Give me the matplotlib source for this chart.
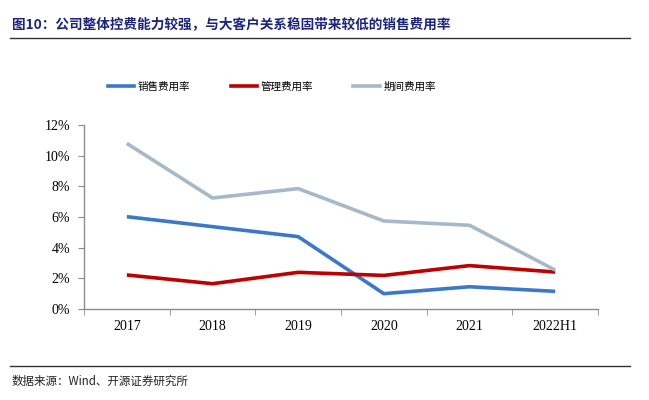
import matplotlib
matplotlib.use("Agg")
import matplotlib.pyplot as plt
from matplotlib.lines import Line2D

plt.rcParams['font.family'] = ['Liberation Serif', 'Noto Sans CJK SC', 'DejaVu Sans']

categories = ["2017", "2018", "2019", "2020", "2021", "2022H1"]
sales_rate = [6.02, 5.37, 4.72, 1.00, 1.45, 1.15]
admin_rate = [2.22, 1.65, 2.39, 2.19, 2.83, 2.41]
period_rate = [10.80, 7.24, 7.85, 5.74, 5.46, 2.54]
series_names = ["销售费用率", "管理费用率", "期间费用率"]
yticks = [0, 2, 4, 6, 8, 10, 12]

colors = ["#3A78C9", "#C00000", "#A6B9C8"]

fig = plt.figure(figsize=(6.49, 4.00), dpi=100)
ax = fig.add_axes([84/649, 1-309/400, (598-84)/649, (309-125)/400])

x = list(range(len(categories)))
for vals, c, name in zip([sales_rate, admin_rate, period_rate], colors, series_names):
    ax.plot(x, vals, color=c, lw=2.6, label=name, solid_capstyle='butt')

ax.set_xlim(-0.5, len(categories) - 0.5)
ax.set_ylim(0, 12)
ax.set_yticks(yticks)
ax.set_yticklabels([f"{v}%" for v in yticks], fontsize=10, family='Liberation Serif')
ax.set_xticks(x)
ax.set_xticklabels(categories, fontsize=10, family='Liberation Serif')
ax.set_xticks([i - 0.5 for i in range(len(categories) + 1)], minor=True)
ax.tick_params(axis='x', which='major', length=0, pad=8)
ax.tick_params(axis='x', which='minor', length=4, color='#8C8C8C', direction='out')
ax.tick_params(axis='y', length=4, color='#8C8C8C', direction='out', pad=6)
for s in ['top', 'right']:
    ax.spines[s].set_visible(False)
for s in ['left', 'bottom']:
    ax.spines[s].set_color('#8C8C8C')
    ax.spines[s].set_linewidth(1.0)

handles = [Line2D([0], [0], color=c, lw=2.6) for c in colors]
leg = fig.legend(handles, series_names, loc='center', bbox_to_anchor=(272/649, 1-87/400),
                 ncol=3, frameon=False, handlelength=2.5, columnspacing=3.8,
                 handletextpad=0.35, prop={'family': ['Noto Sans CJK SC'], 'size': 7.6})

fig.text(12/649, 1-24/400, "图10：公司整体控费能力较强，与大客户关系稳固带来较低的销售费用率",
         fontsize=9.8, fontweight='bold', color='#1A237E', va='center', ha='left',
         family=['Noto Sans CJK SC', 'DejaVu Sans'])
fig.add_artist(Line2D([10/649, 630/649], [1-38/400, 1-38/400], color='#333333', lw=1.0))
fig.add_artist(Line2D([10/649, 630/649], [1-366/400, 1-366/400], color='#333333', lw=1.0))
fig.text(12/649, 1-381/400, "数据来源：Wind、开源证券研究所", fontsize=8.3, va='center', ha='left',
         color='#222222', family=['Noto Sans CJK SC', 'DejaVu Sans'])

fig.savefig("out.png", dpi=100)
